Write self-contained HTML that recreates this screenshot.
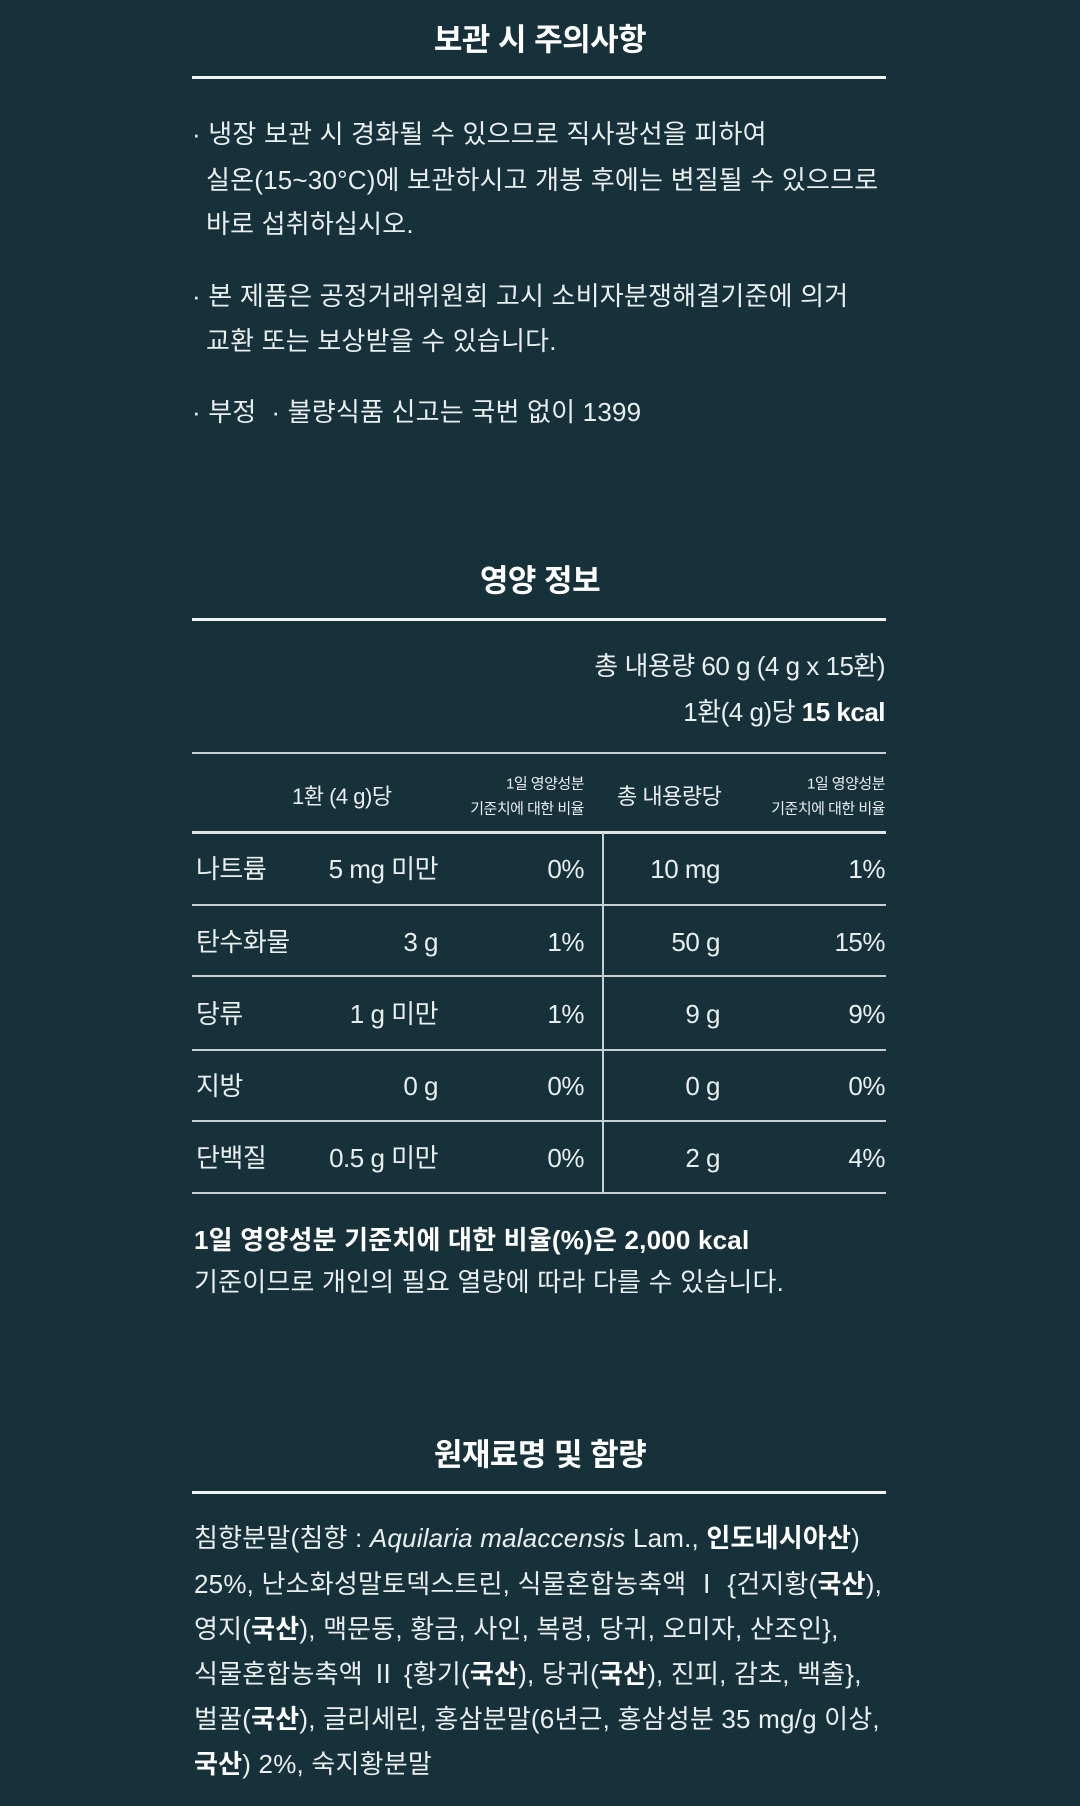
<!DOCTYPE html>
<html><head><meta charset="utf-8"><style>
html,body{margin:0;padding:0}
body{width:1080px;height:1806px;background:#17313a;position:relative;overflow:hidden;font-family:"Liberation Sans","Noto Sans CJK KR",sans-serif;color:#e9eeef}
.t{position:absolute;white-space:nowrap;line-height:1;font-size:26px;letter-spacing:0.2px;transform:translateY(-50%)}
.tb .t{font-size:26px;letter-spacing:-0.5px}
.h{position:absolute;left:0;width:1080px;text-align:center;font-size:31px;font-weight:bold;color:#fff;transform:translateY(-50%);line-height:1;letter-spacing:-0.5px}
.ln{position:absolute;left:192px;width:694px;background:#f2f4f4}
.r{text-align:right}
b{font-weight:bold;color:#fff}
.tb .s{font-size:15px;letter-spacing:-0.5px}
</style></head><body>
<div class="h" style="top:40px">보관 시 주의사항</div>
<div class="ln" style="top:76px;height:3px"></div>
<div class="t" style="left:192px;top:134px">· 냉장 보관 시 경화될 수 있으므로 직사광선을 피하여</div>
<div class="t" style="left:206px;top:180px">실온(15~30°C)에 보관하시고 개봉 후에는 변질될 수 있으므로</div>
<div class="t" style="left:206px;top:224px">바로 섭취하십시오.</div>
<div class="t" style="left:192px;top:296px">· 본 제품은 공정거래위원회 고시 소비자분쟁해결기준에 의거</div>
<div class="t" style="left:206px;top:341px">교환 또는 보상받을 수 있습니다.</div>
<div class="t" style="left:192px;top:412px">· 부정 &nbsp;· 불량식품 신고는 국번 없이 1399</div>

<div class="h" style="top:581px">영양 정보</div>
<div class="ln" style="top:618px;height:3px"></div>
<div class="tb">
<div class="t r" style="right:195px;top:666px">총 내용량 60 g (4 g x 15환)</div>
<div class="t r" style="right:195px;top:712px">1환(4 g)당 <b>15 kcal</b></div>
<div class="ln" style="top:752px;height:2px;background:#c9d0d2"></div>
<div class="t" style="left:292px;top:797px;font-size:22px">1환 (4 g)당</div>
<div class="t r s" style="right:496px;top:784px">1일 영양성분</div>
<div class="t r s" style="right:496px;top:809px">기준치에 대한 비율</div>
<div class="t" style="left:617px;top:797px;font-size:22px">총 내용량당</div>
<div class="t r s" style="right:195px;top:784px">1일 영양성분</div>
<div class="t r s" style="right:195px;top:809px">기준치에 대한 비율</div>
<div class="ln" style="top:831px;height:3px;background:#dfe4e5"></div>
<div style="position:absolute;left:602px;top:833px;width:2px;height:361px;background:#c9d0d2"></div>
<div class="ln" style="top:904px;height:2px;background:#c9d0d2"></div>
<div class="ln" style="top:975px;height:2px;background:#c9d0d2"></div>
<div class="ln" style="top:1049px;height:2px;background:#c9d0d2"></div>
<div class="ln" style="top:1120px;height:2px;background:#c9d0d2"></div>
<div class="ln" style="top:1192px;height:2px;background:#c9d0d2"></div>

<div class="t" style="left:196px;top:869px">나트륨</div><div class="t r" style="right:642px;top:869px">5 mg 미만</div><div class="t r" style="right:496px;top:869px">0%</div><div class="t r" style="right:360px;top:869px">10 mg</div><div class="t r" style="right:195px;top:869px">1%</div>
<div class="t" style="left:196px;top:942px">탄수화물</div><div class="t r" style="right:642px;top:942px">3 g</div><div class="t r" style="right:496px;top:942px">1%</div><div class="t r" style="right:360px;top:942px">50 g</div><div class="t r" style="right:195px;top:942px">15%</div>
<div class="t" style="left:196px;top:1014px">당류</div><div class="t r" style="right:642px;top:1014px">1 g 미만</div><div class="t r" style="right:496px;top:1014px">1%</div><div class="t r" style="right:360px;top:1014px">9 g</div><div class="t r" style="right:195px;top:1014px">9%</div>
<div class="t" style="left:196px;top:1086px">지방</div><div class="t r" style="right:642px;top:1086px">0 g</div><div class="t r" style="right:496px;top:1086px">0%</div><div class="t r" style="right:360px;top:1086px">0 g</div><div class="t r" style="right:195px;top:1086px">0%</div>
<div class="t" style="left:196px;top:1158px">단백질</div><div class="t r" style="right:642px;top:1158px">0.5 g 미만</div><div class="t r" style="right:496px;top:1158px">0%</div><div class="t r" style="right:360px;top:1158px">2 g</div><div class="t r" style="right:195px;top:1158px">4%</div>
</div>

<div class="t" style="left:194px;top:1240px"><b>1일 영양성분 기준치에 대한 비율(%)은 2,000 kcal</b></div>
<div class="t" style="left:194px;top:1282px">기준이므로 개인의 필요 열량에 따라 다를 수 있습니다.</div>

<div class="h" style="top:1455px">원재료명 및 함량</div>
<div class="ln" style="top:1491px;height:3px"></div>
<div class="t" style="left:194px;top:1538px">침향분말(침향 : <i>Aquilaria malaccensis</i> Lam., <b>인도네시아산</b>)</div>
<div class="t" style="left:194px;top:1584px">25%, 난소화성말토덱스트린, 식물혼합농축액 Ⅰ {건지황(<b>국산</b>),</div>
<div class="t" style="left:194px;top:1629px">영지(<b>국산</b>), 맥문동, 황금, 사인, 복령, 당귀, 오미자, 산조인},</div>
<div class="t" style="left:194px;top:1674px">식물혼합농축액 Ⅱ {황기(<b>국산</b>), 당귀(<b>국산</b>), 진피, 감초, 백출},</div>
<div class="t" style="left:194px;top:1719px">벌꿀(<b>국산</b>), 글리세린, 홍삼분말(6년근, 홍삼성분 35 mg/g 이상,</div>
<div class="t" style="left:194px;top:1764px"><b>국산</b>) 2%, 숙지황분말</div>
</body></html>
